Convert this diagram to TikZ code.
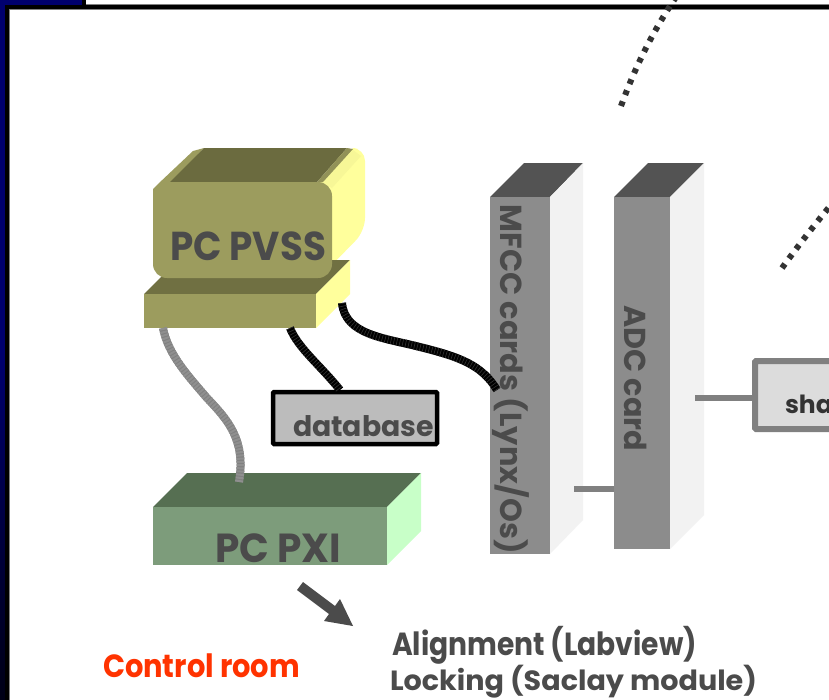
\documentclass[tikz,border=0pt]{standalone}
\usepackage{fontspec}
\setmainfont{Poppins}[BoldFont=Poppins Bold]
\definecolor{navy}{HTML}{00006E}
\definecolor{navydk}{HTML}{000014}
\definecolor{ink}{HTML}{4B4B4B}
\definecolor{olive}{HTML}{9C9C5E}
\definecolor{olivedk}{HTML}{6B6B3F}
\definecolor{yel}{HTML}{FFFF9C}
\definecolor{grayfront}{HTML}{8C8C8C}
\definecolor{graytop}{HTML}{535353}
\definecolor{grayside}{HTML}{F2F2F2}
\definecolor{linegray}{HTML}{808080}
\tikzset{
  face/.style={draw=none,inner sep=0pt,outer sep=0pt,anchor=north west},
  lab/.style={inner sep=0pt,outer sep=0pt,text=ink,font=\bfseries\fontsize{#1}{#1}\selectfont},
  lab/.default=28,
  wire/.style={line width=6pt,linegray},
  cableg/.style={line width=8pt,linegray},
  cableb/.style={line width=8pt,black},
  stripeg/.style={line width=8pt,color=white!12!linegray,dash pattern=on 2pt off 1.2pt},
  stripeb/.style={line width=8pt,color=black!80,dash pattern=on .6pt off 2.4pt},
  dots/.style={line width=6pt,color=black!80,dash pattern=on 5pt off 6.8pt},
}
\begin{document}
\begin{tikzpicture}[x=1pt,y=-1pt]
\useasboundingbox (0,0) rectangle (829,699);
\clip (0,0) rectangle (829,699);
% slide frame
\fill[white] (-2,-2) rectangle (831,701);
\shade[top color=navy,bottom color=navydk,middle color=navy] (0,0) rectangle (9,701);
\fill[navy] (0,0) rectangle (86,9);
\fill[black] (82,0) rectangle (86,5);
\fill[black] (5,5) rectangle (829,9);
\fill[black] (5,5) rectangle (9,701);
\draw[linegray,line width=.7pt] (86,4.4) -- (829,4.4);
\draw[linegray,line width=.7pt] (829,9.3) -- (9.3,9.3) -- (9.3,701);
% dotted arcs
\coordinate (arcAa) at (621,106);
\coordinate (arcAb) at (678,-6);
\draw[dots] (arcAa) .. controls (632,76) and (648,38) .. (arcAb);
\coordinate (arcBa) at (782,268);
\coordinate (arcBb) at (835,200);
\draw[dots] (arcBa) .. controls (798,246) and (815,224) .. (arcBb);
% PC PVSS monitor back
\fill[yel,rounded corners=13pt] (310,195) -- (345,148) -- (365,148) -- (365,231) -- (325,272) -- cycle;
\fill[yel!92!olive] (322,182) -- (353,150) -- (361,156) -- (332,188) -- cycle;
\fill[olive] (153,195) -- (153,189) -- (158,184) -- (193,151) -- (204,148) -- (172,183) -- (200,195) -- cycle;
\fill[olivedk] (170,182) -- (204,148) -- (347,148) -- (317,182) -- cycle;
\fill[olive!80!olivedk] (317,182) -- (347,148) -- (353,149) -- (323,182) -- cycle;
% base
\fill[olivedk!90!olive] (144,294) -- (178,260) -- (350,260) -- (316,294) -- cycle;
\fill[yel] (316,294) -- (350,260) -- (350,294) -- (316,328) -- cycle;
\node[face,fill=olive,minimum width=172pt,minimum height=34pt] (base) at (144,294) {};
\node[face,fill=olive,rounded corners=14pt,minimum width=179pt,minimum height=96pt] (pvss) at (153,182) {};
\node[lab=33,anchor=base west] (pvsstext) at (170,260) {\resizebox*{156pt}{29pt}{PC PVSS}};
% cables
\coordinate (gA) at (163,328);
\coordinate (gB) at (207,398);
\coordinate (gC) at (239,482);
\coordinate (bA) at (290,328);
\coordinate (bB) at (340,390);
\coordinate (cA) at (342,303);
\coordinate (cB) at (420,347);
\coordinate (cC) at (497,390);
% PXI
\fill[fill={rgb,255:red,86;green,111;blue,82}] (153,507) -- (187,473) -- (421,473) -- (387,507) -- cycle;
\fill[fill={rgb,255:red,200;green,255;blue,200}] (387,507) -- (421,473) -- (421,531) -- (387,565) -- cycle;
\node[face,fill={rgb,255:red,125;green,156;blue,123},minimum width=234pt,minimum height=58pt] (pxi) at (153,507) {};
\node[lab=30,anchor=base west] (pxitext) at (215,562) {\resizebox*{126pt}{29pt}{PC PXI}};
% database
\node[face,fill={rgb,255:red,188;green,188;blue,188},draw=black,line width=4.5pt,rounded corners=1pt,minimum width=164pt,minimum height=52pt] (db) at (273,392) {};
\node[lab=30,anchor=base west] (dbtext) at (293,436) {\resizebox{141pt}{!}{database}};
% cable drawing
\draw[cableg] (gA) .. controls (168,355) and (190,378) .. (gB) .. controls (228,420) and (246,440) .. (gC);
\draw[stripeg] (gA) .. controls (168,355) and (190,378) .. (gB) .. controls (228,420) and (246,440) .. (gC);
\draw[cableb] (bA) .. controls (298,348) and (320,365) .. (bB);
\draw[stripeb] (bA) .. controls (298,348) and (320,365) .. (bB);
% MFCC card
\fill[graytop] (490,197) -- (524,163) -- (583,163) -- (550,197) -- cycle;
\fill[grayside] (550,197) -- (583,163) -- (583,520) -- (550,554) -- cycle;
\node[face,fill=grayfront,minimum width=60pt,minimum height=357pt] (mfcc) at (490,197) {};
\node[lab=28,rotate=-90] (mfcctext) at (511,379) {\resizebox{349pt}{!}{MFCC cards (Lynx/Os)}};
\draw[cableb] (cA) .. controls (345,335) and (385,338) .. (cB) .. controls (460,357) and (482,365) .. (cC);
\draw[stripeb] (cA) .. controls (345,335) and (385,338) .. (cB) .. controls (460,357) and (482,365) .. (cC);
% ADC card
\fill[graytop] (614,197) -- (648,163) -- (704,163) -- (670,197) -- cycle;
\fill[grayside] (670,197) -- (704,163) -- (704,515) -- (670,549) -- cycle;
\node[face,fill=grayfront,minimum width=56pt,minimum height=352pt] (adc) at (614,197) {};
\node[lab=28,rotate=-90] (adctext) at (636,378) {\resizebox{146pt}{!}{ADC card}};
% shaper box
\node[face,fill={rgb,255:red,220;green,220;blue,220},draw=linegray,line width=6pt,rounded corners=1pt,minimum width=100pt,minimum height=68pt] (shaper) at (755,361) {};
\node[lab=25,anchor=base west,text=black!80] (shapertext) at (785,413) {shaper};
% links
\coordinate (linkA) at (574,489);
\coordinate (linkB) at (614,489);
\coordinate (linkC) at (695,398);
\coordinate (linkD) at (752,398);
\draw[wire] (linkA) -- (linkB);
\draw[wire] (linkC) -- (linkD);
% arrow
\fill[ink] (297,590) -- (303,582) -- (335,606) -- (340,599) -- (353,626) -- (324,621) -- (329,614) -- cycle;
% bottom texts
\node[lab=27,anchor=base west,text={rgb,255:red,255;green,51;blue,0}] (room) at (103,677) {\resizebox*{197pt}{24pt}{Control room}};
\node[lab=27,anchor=base west] (align) at (392,655) {\resizebox*{305pt}{38pt}{Alignment (Labview)}};
\node[lab=27,anchor=base west] (lock) at (390,690) {\resizebox*{367pt}{33pt}{Locking (Saclay module)}};
\end{tikzpicture}
\end{document}
